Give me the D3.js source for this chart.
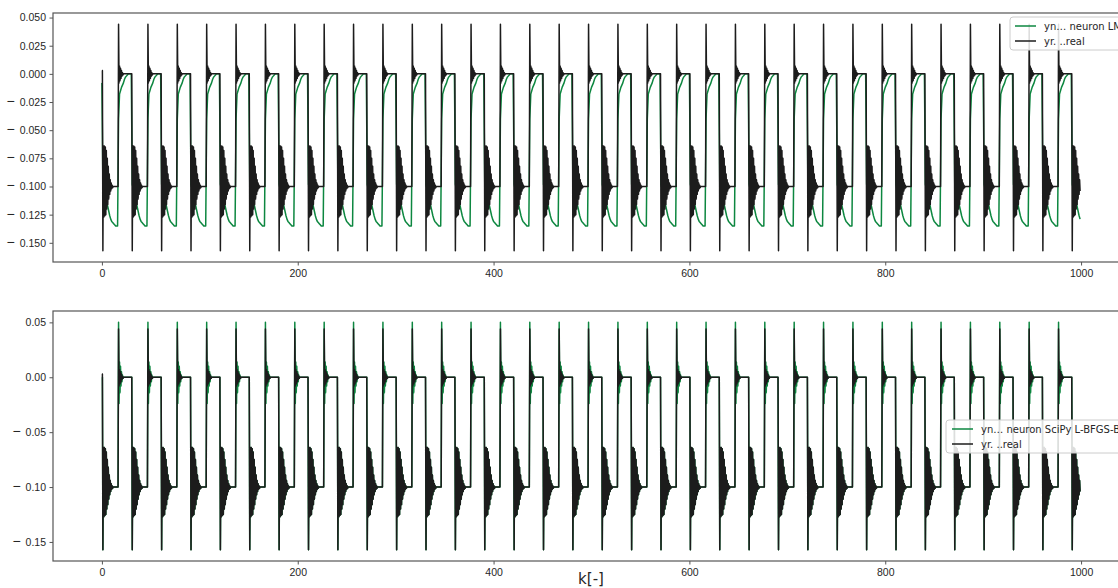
<!DOCTYPE html>
<html>
<head>
<meta charset="utf-8">
<script src="https://cdn.jsdelivr.net/npm/d3@7"></script>
<style>
  body { margin: 0; background: #fff; }
  svg { display: block; font-family: "DejaVu Sans", sans-serif; }
  .tick text { fill: #262626; font-size: 10.5px; }
  .tick line { stroke: #555; }
</style>
</head>
<body>
<svg></svg>
<script>
// data: the signal repeats every 30 k, one cycle starts at each drop (k = 1, 31, 61, ...)
const kMax = 999
const cycleLen = 30

// real output: sampled every half k, starts at k = 0
const yrStep = 0.5
const yrStart = [0.003, 0.003]
const yrCycle = [
  -0.157, -0.064, -0.127, -0.064, -0.126, -0.065, -0.125, -0.068, -0.120, -0.075,
  -0.116, -0.082, -0.111, -0.089, -0.107, -0.094, -0.104, -0.097, -0.102, -0.099,
  -0.101, -0.100, -0.100, -0.100, -0.100, -0.100, -0.100, -0.100, -0.100, -0.100,
  -0.100, -0.100,
  0.044, -0.008, 0.007, -0.006, 0.005, -0.004, 0.003, -0.002, 0.001, -0.001,
  0.000, 0.000, 0.000, 0.000, 0.000, 0.000, 0.000, 0.000, 0.000, 0.000,
  0.000, 0.000, 0.000, 0.000, 0.000, 0.000, 0.000, 0.000
]

// neuron trained with LM: sampled every k
const ynLmStep = 1
const ynLmStart = [-0.008]
const ynLmCycle = [
  -0.098, -0.102, -0.106, -0.110, -0.114, -0.118, -0.122, -0.126, -0.129, -0.131,
  -0.132, -0.133, -0.134, -0.135, -0.135, -0.135,
  -0.040, -0.018, -0.015, -0.012, -0.010, -0.008, -0.005, -0.003, -0.002, -0.001,
  0.000, 0.000, 0.000, 0.000
]

// neuron trained with SciPy L-BFGS-B: sampled every half k
const ynSciStep = 0.5
const ynSciStart = [0.000, 0.000]
const ynSciCycle = [
  -0.157, -0.064, -0.127, -0.064, -0.126, -0.065, -0.125, -0.068, -0.120, -0.075,
  -0.116, -0.082, -0.111, -0.089, -0.107, -0.094, -0.104, -0.097, -0.102, -0.099,
  -0.101, -0.100, -0.100, -0.100, -0.100, -0.100, -0.100, -0.100, -0.100, -0.100,
  -0.100, -0.100,
  0.050, -0.024, 0.014, -0.014, 0.010, -0.008, 0.005, -0.004, 0.002, -0.001,
  0.000, 0.000, 0.000, 0.000, 0.000, 0.000, 0.000, 0.000, 0.000, 0.000,
  0.000, 0.000, 0.000, 0.000, 0.000, 0.000, 0.000, 0.000
]

const xTicks = [0, 200, 400, 600, 800, 1000]
const yTicksTop = [0.050, 0.025, 0.000, -0.025, -0.050, -0.075, -0.100, -0.125, -0.150]
const yTicksBottom = [0.05, 0.00, -0.05, -0.10, -0.15]

const legendTop = ['yn\u2026 neuron LMA', 'yr. ..real']
const legendBottom = ['yn\u2026 neuron SciPy L-BFGS-B', 'yr. ..real']
const xLabel = 'k[-]'

const green = '#0d8740'
const black = '#1c1c1c'

const width = 1118
const height = 588
const left = 53
const right = 1129   // the figure is wider than the window, right edge is cut off

let svg = d3.select('svg').attr('width', width).attr('height', height)

function buildSeries(start, cycle, step) {
    let out = []
    let n = Math.floor(kMax / step) + 1
    for (let i = 0; i < n; i++) {
        if (i < start.length) out.push({ k: i * step, v: start[i] })
        else out.push({ k: i * step, v: cycle[(i - start.length) % cycle.length] })
    }
    return out
}

let yr = buildSeries(yrStart, yrCycle, yrStep)
let ynLm = buildSeries(ynLmStart, ynLmCycle, ynLmStep)
let ynSci = buildSeries(ynSciStart, ynSciCycle, ynSciStep)

let xScale = d3.scaleLinear()
    .domain([-0.05 * kMax, 1.05 * kMax])
    .range([left, right])

function padExtent(arrays) {
    let lo = d3.min(arrays, a => d3.min(a, d => d.v))
    let hi = d3.max(arrays, a => d3.max(a, d => d.v))
    let m = (hi - lo) * 0.05
    return [lo - m, hi + m]
}

// negative labels: a wider minus with some room after it, like the mathtext labels
function styleMinus(axisG, spec) {
    let f = d3.format(spec)
    axisG.selectAll('.tick text').each(function (d) {
        if (d >= -1e-9) return
        let t = d3.select(this).text(null)
        t.append('tspan').attr('font-size', '14px').text('\u2212')
        t.append('tspan').attr('dx', 5).text(f(Math.abs(d)))
    })
}

function drawPanel(top, bottom, series, yTicks, fmt, legendTexts, legendBox) {
    let yScale = d3.scaleLinear()
        .domain(padExtent(series.map(s => s.values)))
        .range([bottom, top])

    let g = svg.append('g')

    let line = d3.line()
        .x(d => xScale(d.k))
        .y(d => yScale(d.v))

    series.forEach(s => {
        g.append('path')
            .attr('d', line(s.values))
            .attr('fill', 'none')
            .attr('stroke', s.color)
            .attr('stroke-width', 1.5)
            .attr('stroke-linejoin', 'round')
    })

    let xAxis = d3.axisBottom(xScale).tickValues(xTicks).tickFormat(d3.format('d')).tickSize(3.5).tickPadding(4.5)
    let yAxis = d3.axisLeft(yScale).tickValues(yTicks).tickFormat(d3.format(fmt)).tickSize(3.5).tickPadding(3.5)

    g.append('g')
        .attr('transform', 'translate(0,' + bottom + ')')
        .call(xAxis)
        .call(a => a.select('.domain').remove())

    g.append('g')
        .attr('transform', 'translate(' + left + ',0)')
        .call(yAxis)
        .call(a => a.select('.domain').remove())
        .call(a => styleMinus(a, fmt))

    // spines
    g.append('rect')
        .attr('x', left).attr('y', top)
        .attr('width', right - left).attr('height', bottom - top)
        .attr('fill', 'none')
        .attr('stroke', '#555')
        .attr('stroke-width', 1.2)

    // legend
    let lg = g.append('g').attr('transform', 'translate(' + legendBox.x + ',' + legendBox.y + ')')
    lg.append('rect')
        .attr('width', 200).attr('height', 33)
        .attr('rx', 3)
        .attr('fill', 'white').attr('fill-opacity', 0.85)
        .attr('stroke', '#ccc')
    legendTexts.forEach((t, i) => {
        let yy = 9 + i * 15
        lg.append('line')
            .attr('x1', legendBox.lineX).attr('x2', legendBox.lineX + 21)
            .attr('y1', yy).attr('y2', yy)
            .attr('stroke', series[i].color)
            .attr('stroke-width', 1.5)
        lg.append('text')
            .attr('x', legendBox.lineX + 29).attr('y', yy)
            .attr('dy', '0.35em')
            .attr('font-size', 10)
            .attr('fill', '#262626')
            .text(t)
    })
}

drawPanel(13, 262,
    [{ values: ynLm, color: green }, { values: yr, color: black }],
    yTicksTop, '.3f', legendTop, { x: 1010, y: 17, lineX: 5 })

drawPanel(311, 561,
    [{ values: ynSci, color: green }, { values: yr, color: black }],
    yTicksBottom, '.2f', legendBottom, { x: 946, y: 420, lineX: 6 })

svg.append('text')
    .attr('x', (left + right) / 2)
    .attr('y', 584)
    .attr('text-anchor', 'middle')
    .attr('font-size', 15)
    .attr('fill', '#262626')
    .text(xLabel)
</script>
</body>
</html>
